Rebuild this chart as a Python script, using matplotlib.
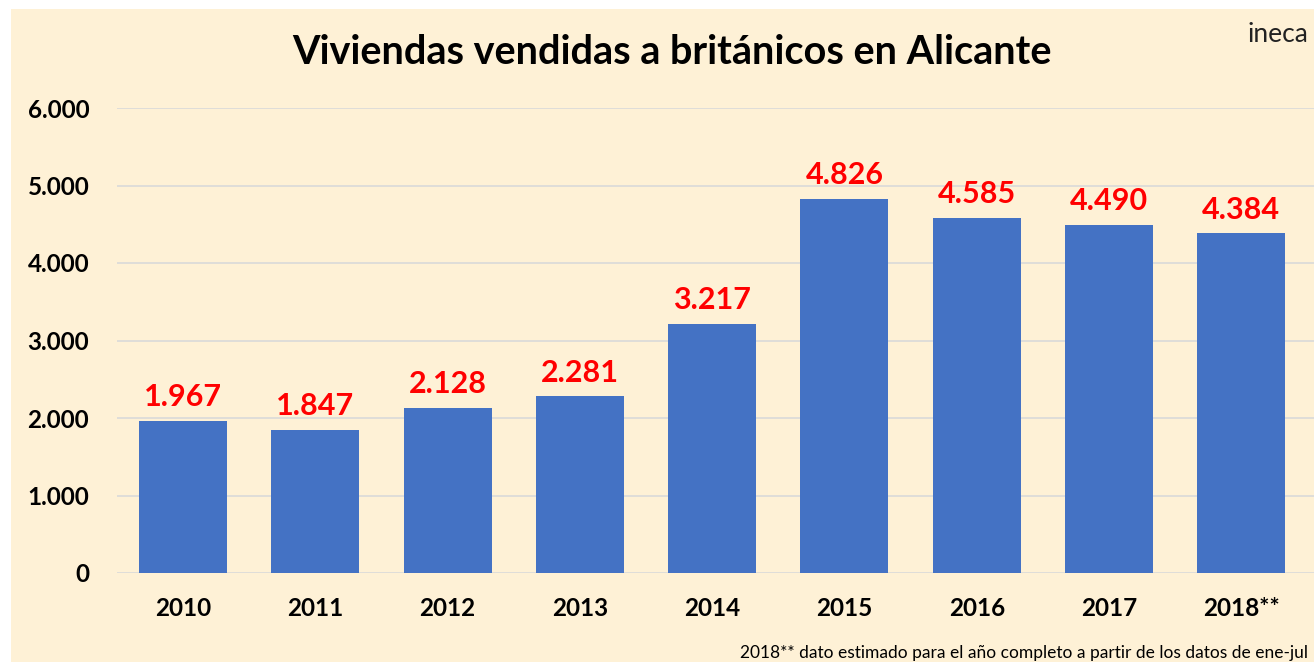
import matplotlib.pyplot as plt
from matplotlib.patches import Rectangle
from matplotlib.ticker import FuncFormatter

years = ['2010', '2011', '2012', '2013', '2014', '2015', '2016', '2017', '2018**']
sales = [1967, 1847, 2128, 2281, 3217, 4826, 4585, 4490, 4384]

BG = '#FEF1D6'
BAR = '#4472C4'
FONT = 'Lato'


def fmt_es(v, pos=None):
    return f'{int(v):,}'.replace(',', '.')


fig = plt.figure(figsize=(13.14, 6.62), dpi=100, facecolor='white')
fig.patches.append(Rectangle((11 / 1314, 0), 1, 1 - 9 / 662, transform=fig.transFigure,
                             facecolor=BG, edgecolor='none', zorder=-10))

ax = fig.add_axes([117 / 1314, 89 / 662, 1 - 117 / 1314, (554 - 89) / 662])
ax.set_facecolor('none')

x = range(len(years))
ax.bar(x, sales, width=0.665, color=BAR, zorder=3)

for xi, v in zip(x, sales):
    ax.annotate(fmt_es(v), (xi, v), xytext=(0, 7), textcoords='offset points',
                ha='center', va='bottom', color='#FF0000', fontsize=22,
                fontweight='bold', family=FONT)

ax.set_ylim(0, 6000)
ax.set_xlim(-0.5, 8.55)
ax.set_yticks(range(0, 6001, 1000))
ax.yaxis.set_major_formatter(FuncFormatter(fmt_es))
ax.set_xticks(list(x))
ax.set_xticklabels(years)
ax.grid(axis='y', color='#D9D9D9', linewidth=1.2, zorder=0)
for s in ax.spines.values():
    s.set_visible(False)
ax.tick_params(axis='both', length=0, labelsize=17.5)
ax.tick_params(axis='x', pad=17)
ax.tick_params(axis='y', pad=20)
for lab in ax.get_xticklabels() + ax.get_yticklabels():
    lab.set_fontweight('bold')
    lab.set_family(FONT)

fig.text(672 / 1314, 1 - 52 / 662, 'Viviendas vendidas a británicos en Alicante',
         ha='center', va='center', fontsize=28.5, fontweight='bold', family=FONT)
fig.text(1308 / 1314, 1 - 35 / 662, 'ineca', ha='right', va='center',
         fontsize=19, color='#222222', family=FONT)
fig.text(740 / 1314, 1 - 653 / 662,
         '2018** dato estimado para el año completo a partir de los datos de ene-jul',
         ha='left', va='center', fontsize=12.5, family=FONT)

fig.savefig('out.png', dpi=100, facecolor=fig.get_facecolor())
